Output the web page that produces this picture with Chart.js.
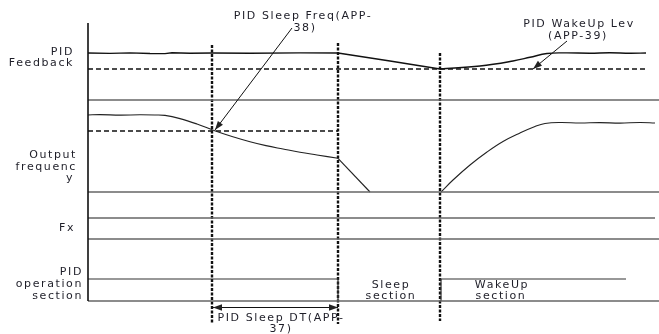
<!DOCTYPE html>
<html>
<head>
<meta charset="utf-8">
<script src="https://cdn.jsdelivr.net/npm/chart.js@4"></script>
<style>
  body { margin: 0; background: #fff; }
  #myChart { display: block; }
</style>
</head>
<body>
<canvas id="myChart" width="659" height="334"></canvas>
<script>
// time axis (t) and level (lv) for every trace of the timing diagram
const axisT = [88, 88];
const axisLv = [23, 301];

const feedbackT = [88, 110, 130, 150, 165, 172, 190, 212, 250, 300, 338, 390, 440];
const feedbackLv = [53, 53.4, 52.9, 53.5, 53.6, 52.8, 53.2, 53, 53.3, 52.9, 53, 61, 69];
const recoverT = [440, 480, 513, 530, 547, 565, 590, 610, 630, 646];
const recoverLv = [69, 66, 61, 57.3, 53.5, 52.9, 53.2, 52.8, 53.3, 53];
const wakeLevelT = [88, 646];
const wakeLevelLv = [69, 69];

const sleepOutT = [88, 100, 120, 140, 155, 165, 180, 197, 214, 232, 250, 266, 283, 300, 317, 338];
const sleepOutLv = [115, 114.6, 115.1, 114.8, 115, 115.4, 118.6, 124, 130.5, 136.5, 141.7, 145.6, 149, 152.3, 155, 158.3];
const dropT = [338, 370];
const dropLv = [158.3, 192];
const sleepFreqT = [88, 338];
const sleepFreqLv = [131, 131];

const wakeOutT = [441, 453, 470, 487, 503, 520, 535, 545, 560, 580, 600, 620, 640, 655];
const wakeOutLv = [192, 180, 165, 152, 141.5, 133, 126.5, 123.5, 122.5, 123, 122.6, 123.1, 122.5, 123];

const pidOnT = [88, 338, 338];
const pidOnLv = [279, 279, 301];
const pidWakeT = [441, 441, 626];
const pidWakeLv = [301, 279, 279];

// lane separators: [start, end, level]
const gridLines = [
  [88, 659, 100],
  [88, 659, 192],
  [88, 655, 218],
  [88, 659, 239],
  [88, 659, 301]
];

// event markers: [t, top, bottom]
const eventMarks = [
  [212, 45, 324],
  [338, 43, 324],
  [440, 53, 321]
];

// lane names on the left: [text, lv, right edge]
const laneLabels = [
  ['PID', 52, 74],
  ['Feedback', 63, 74],
  ['Output', 155, 77],
  ['frequenc', 167, 77],
  ['y', 178, 74],
  ['Fx', 228, 75],
  ['PID', 272, 83],
  ['operation', 284, 83],
  ['section', 296, 83]
];

// annotation text: [text, t, lv]
const notes = [
  ['PID Sleep Freq(APP-', 303, 16],
  ['38)', 305, 28],
  ['PID WakeUp Lev', 579, 24],
  ['(APP-39)', 578, 36],
  ['Sleep', 391, 285],
  ['section', 391, 296],
  ['WakeUp', 502, 285],
  ['section', 501, 296],
  ['PID Sleep DT(APP-', 281, 318],
  ['37)', 281, 329]
];

// pointer arrows: [fromT, fromLv, toT, toLv, double]
const pointers = [
  [292, 28, 215, 130, false],
  [567, 41, 533, 69, false],
  [213, 307.5, 338, 307.5, true]
];

const zip = (xs, ys) => xs.map((x, i) => ({ x: x, y: ys[i] }));

const trace = (xs, ys, color, width, dash, tension) => ({
  data: zip(xs, ys),
  borderColor: color,
  borderWidth: width,
  borderDash: dash || [],
  pointRadius: 0,
  tension: tension || 0,
  fill: false
});

const datasets = [
  trace(axisT, axisLv, '#111', 1.6),
  ...gridLines.map(g => trace([g[0], g[1]], [g[2], g[2]], '#666', 1.4)),
  trace(feedbackT, feedbackLv, '#111', 1.4),
  trace(recoverT, recoverLv, '#111', 1.4, null, 0.4),
  trace(wakeLevelT, wakeLevelLv, '#111', 1.6, [5, 3]),
  trace(sleepOutT, sleepOutLv, '#222', 1.1, null, 0.4),
  trace(dropT, dropLv, '#222', 1.1),
  trace(sleepFreqT, sleepFreqLv, '#111', 1.6, [5, 3]),
  trace(wakeOutT, wakeOutLv, '#222', 1.1, null, 0.4),
  trace(pidOnT, pidOnLv, '#333', 1.2),
  trace(pidWakeT, pidWakeLv, '#333', 1.2),
  ...eventMarks.map(m => trace([m[0], m[0]], [m[1], m[2]], '#111', 2.4, [3, 1.5]))
];

const drawHead = (ctx, x1, y1, x2, y2) => {
  const a = Math.atan2(y2 - y1, x2 - x1);
  const len = 9, half = 3.2;
  ctx.beginPath();
  ctx.moveTo(x2, y2);
  ctx.lineTo(x2 - len * Math.cos(a) + half * Math.sin(a), y2 - len * Math.sin(a) - half * Math.cos(a));
  ctx.lineTo(x2 - len * Math.cos(a) - half * Math.sin(a), y2 - len * Math.sin(a) + half * Math.cos(a));
  ctx.closePath();
  ctx.fill();
};

const diagramText = {
  id: 'diagramText',
  afterDatasetsDraw(chart) {
    const ctx = chart.ctx;
    const sx = chart.scales.x, sy = chart.scales.y;
    ctx.save();
    ctx.fillStyle = '#222';
    ctx.strokeStyle = '#111';
    ctx.lineWidth = 1;
    pointers.forEach(p => {
      const x1 = sx.getPixelForValue(p[0]), y1 = sy.getPixelForValue(p[1]);
      const x2 = sx.getPixelForValue(p[2]), y2 = sy.getPixelForValue(p[3]);
      ctx.beginPath();
      ctx.moveTo(x1, y1);
      ctx.lineTo(x2, y2);
      ctx.stroke();
      drawHead(ctx, x1, y1, x2, y2);
      if (p[4]) drawHead(ctx, x2, y2, x1, y1);
    });

    ctx.font = '11px "DejaVu Sans"';
    ctx.letterSpacing = '1.6px';
    ctx.textBaseline = 'middle';
    ctx.fillStyle = '#1e1e28';
    ctx.textAlign = 'right';
    laneLabels.forEach(l => {
      ctx.fillText(l[0], sx.getPixelForValue(l[2]), sy.getPixelForValue(l[1]));
    });
    ctx.textAlign = 'center';
    notes.forEach(n => {
      ctx.fillText(n[0], sx.getPixelForValue(n[1]), sy.getPixelForValue(n[2]));
    });
    ctx.restore();
  }
};

const config = {
  type: 'line',
  data: { datasets },
  options: {
    responsive: false,
    animation: false,
    layout: { padding: 0 },
    scales: {
      x: { type: 'linear', min: 0, max: 659, display: false },
      y: { type: 'linear', min: 0, max: 334, reverse: true, display: false }
    },
    plugins: {
      legend: { display: false },
      tooltip: { enabled: false }
    }
  },
  plugins: [diagramText]
};

const myChart = new Chart(document.getElementById('myChart'), config);
</script>
</body>
</html>
